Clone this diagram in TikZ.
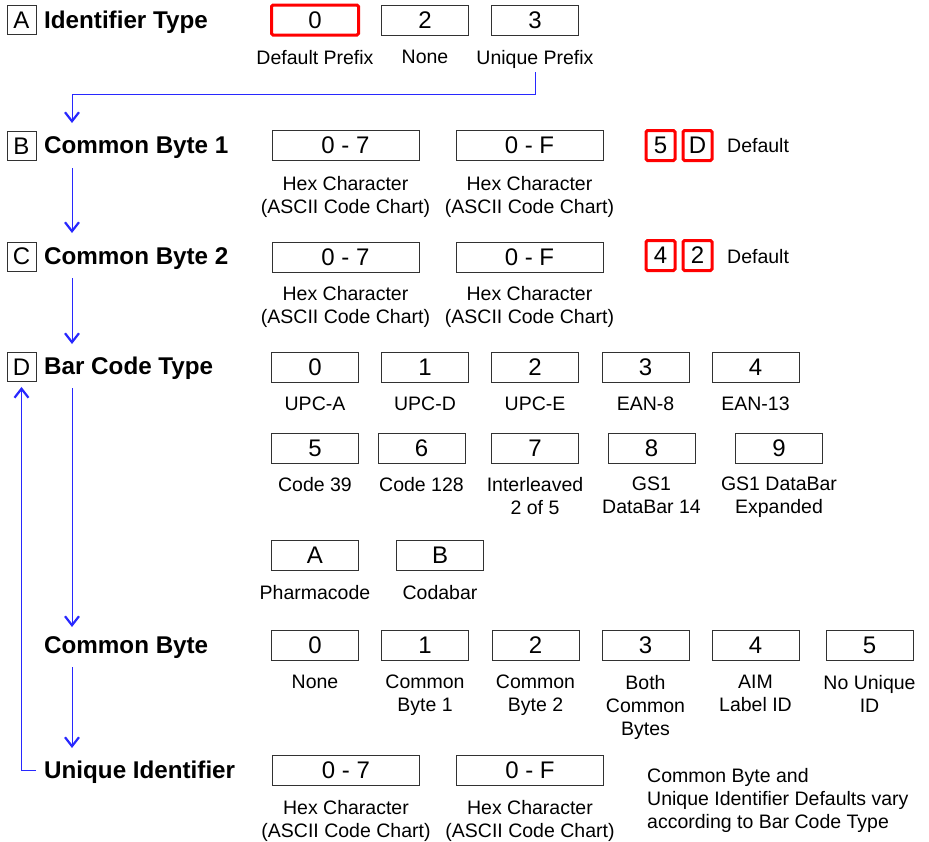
\documentclass[tikz,border=0pt]{standalone}
\usepackage{fontspec}
\setmainfont{Liberation Sans}
\usetikzlibrary{arrows.meta}
\definecolor{boxline}{RGB}{50,50,50}
\definecolor{flowblue}{RGB}{40,40,255}
\begin{document}
\begin{tikzpicture}[x=1pt,y=-1pt,
 box/.style={draw=boxline, line width=0.9pt, minimum width=87pt, minimum height=30pt, inner sep=0pt, font=\fontsize{24}{27}\selectfont},
 hexbox/.style={box, minimum width=147pt},
 redbox/.style={box, draw=red, line width=3pt, rounded corners=1.5pt},
 redsq/.style={redbox, minimum width=29pt},
 letterbox/.style={draw=boxline, line width=0.9pt, minimum width=29pt, minimum height=29pt, inner sep=0pt, font=\fontsize{24}{28}\selectfont},
 ttl/.style={anchor=base west, inner sep=0pt, font=\bfseries\fontsize{24.2}{28}\selectfont},
 lbl/.style={anchor=north, inner sep=0pt, align=center, font=\fontsize{19.5}{23}\selectfont},
 deflbl/.style={anchor=base west, inner sep=0pt, font=\fontsize{19.5}{23}\selectfont},
 note/.style={anchor=north west, inner sep=0pt, align=left, font=\fontsize{19.5}{23}\selectfont},
 flow/.style={draw=flowblue, line width=0.9pt, -{Straight Barb[length=9pt,width=14pt,line width=2.2pt]}}
]
\useasboundingbox (0,0) rectangle (929,841);

% ---------- A ----------
\node[letterbox] (lA) at (21.5,20) {A};
\node[ttl] (tA) at (44,28) {Identifier Type};
\node[redbox] (a0) at (315,20) {0};
\node[box] (a2) at (425,20) {2};
\node[box] (a3) at (535,20) {3};
\node[lbl] (la0) at (315,50) {Default Prefix};
\node[lbl] (la2) at (425,50) {None};
\node[lbl] (la3) at (535,50) {Unique Prefix};

% ---------- B ----------
\node[letterbox] (lB) at (21.5,146) {B};
\node[ttl] (tB) at (44,153) {Common Byte 1};
\node[hexbox] (b1) at (345.5,145) {0 - 7};
\node[hexbox] (b2) at (529.5,145) {0 - F};
\node[lbl] (lb1) at (345.5,176) {Hex Character\\(ASCII Code Chart)};
\node[lbl] (lb2) at (529.5,176) {Hex Character\\(ASCII Code Chart)};
\node[redsq] (b5) at (660.5,145.5) {5};
\node[redsq] (bD) at (697.5,145.5) {D};
\node[deflbl] (bdef) at (727,152) {Default};

% ---------- C ----------
\node[letterbox] (lC) at (21.5,256.5) {C};
\node[ttl] (tC) at (44,264) {Common Byte 2};
\node[hexbox] (c1) at (345.5,257) {0 - 7};
\node[hexbox] (c2) at (529.5,257) {0 - F};
\node[lbl] (lc1) at (345.5,286) {Hex Character\\(ASCII Code Chart)};
\node[lbl] (lc2) at (529.5,286) {Hex Character\\(ASCII Code Chart)};
\node[redsq] (c4) at (660.5,255.5) {4};
\node[redsq] (c2r) at (697.5,255.5) {2};
\node[deflbl] (cdef) at (727,263) {Default};

% ---------- D ----------
\node[letterbox] (lD) at (21.5,367) {D};
\node[ttl] (tD) at (44,374) {Bar Code Type};
\node[box] (d0) at (315,367) {0};
\node[box] (d1) at (425,367) {1};
\node[box] (d2) at (535,367) {2};
\node[box] (d3) at (645.5,367) {3};
\node[box] (d4) at (755.5,367) {4};
\node[lbl] (ld0) at (315,397) {UPC-A};
\node[lbl] (ld1) at (425,397) {UPC-D};
\node[lbl] (ld2) at (535,397) {UPC-E};
\node[lbl] (ld3) at (645.5,397) {EAN-8};
\node[lbl] (ld4) at (755.5,397) {EAN-13};

\node[box] (d5) at (315,448) {5};
\node[box] (d6) at (421.5,448) {6};
\node[box] (d7) at (535,448) {7};
\node[box] (d8) at (651.5,448) {8};
\node[box] (d9) at (779,448) {9};
\node[lbl] (ld5) at (315,477) {Code 39};
\node[lbl] (ld6) at (421.5,477) {Code 128};
\node[lbl] (ld7) at (535,477) {Interleaved\\2 of 5};
\node[lbl] (ld8) at (651.5,477) {GS1\\DataBar 14};
\node[lbl] (ld9) at (779,477) {GS1 DataBar\\Expanded};

\node[box] (dA) at (315,555) {A};
\node[box] (dB) at (440,555) {B};
\node[lbl] (ldA) at (315,585) {Pharmacode};
\node[lbl] (ldB) at (440,585) {Codabar};

% ---------- Common Byte ----------
\node[ttl] (tE) at (44,653) {Common Byte};
\node[box] (e0) at (315,645) {0};
\node[box] (e1) at (425,645) {1};
\node[box] (e2) at (535.5,645) {2};
\node[box] (e3) at (645.5,645) {3};
\node[box] (e4) at (755.5,645) {4};
\node[box] (e5) at (869.5,645) {5};
\node[lbl] (le0) at (315,675) {None};
\node[lbl] (le1) at (425,675) {Common\\Byte 1};
\node[lbl] (le2) at (535.5,675) {Common\\Byte 2};
\node[lbl] (le3) at (645.5,675) {Both\\Common\\Bytes};
\node[lbl] (le4) at (755.5,675) {AIM\\Label ID};
\node[lbl] (le5) at (869.5,675) {No Unique\\ID};

% ---------- Unique Identifier ----------
\node[ttl] (tU) at (44,778) {Unique Identifier};
\node[hexbox] (u1) at (346,770.5) {0 - 7};
\node[hexbox] (u2) at (530,770.5) {0 - F};
\node[lbl] (lu1) at (346,800) {Hex Character\\(ASCII Code Chart)};
\node[lbl] (lu2) at (530,800) {Hex Character\\(ASCII Code Chart)};
\node[note] (nt) at (647,768) {Common Byte and\\Unique Identifier Defaults vary\\according to Bar Code Type};

% ---------- connectors ----------
\coordinate (aOut) at (535,72);
\coordinate (aBend) at (72,94);
\coordinate (bIn) at (72,123);
\coordinate (bOut) at (72,168);
\coordinate (cIn) at (72,233);
\coordinate (cOut) at (72,278);
\coordinate (dIn) at (72,344);
\coordinate (dOut) at (72,388);
\coordinate (eIn) at (72,627);
\coordinate (eOut) at (72,667);
\coordinate (uIn) at (72,748);
\coordinate (uOut) at (36,770);

\draw[flow] (aOut) |- (aBend) -- (bIn);
\draw[flow] (bOut) -- (cIn);
\draw[flow] (cOut) -- (dIn);
\draw[flow] (dOut) -- (eIn);
\draw[flow] (eOut) -- (uIn);
\draw[flow] (uOut) -| ([yshift=-5pt]lD.south);
\end{tikzpicture}
\end{document}
